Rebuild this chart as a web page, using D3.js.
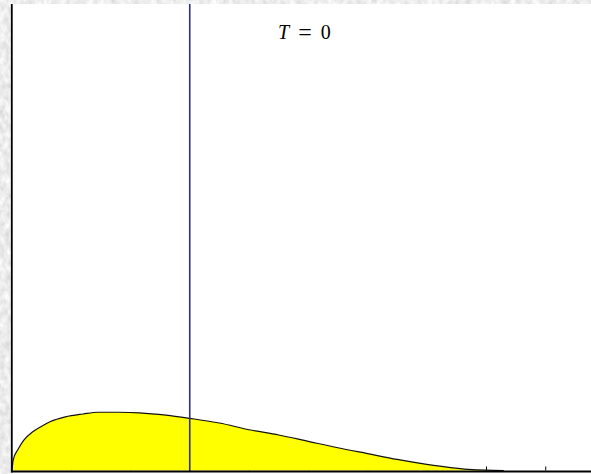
<!DOCTYPE html>
<html>
<head>
<meta charset="utf-8">
<script src="https://cdn.jsdelivr.net/npm/d3@7"></script>
<style>
  html, body { margin: 0; padding: 0; background: #fff; }
  svg { display: block; }
</style>
</head>
<body>
<script>
// Occupation density at T = 0 (energy in arbitrary units)
const energy  = [0, 0.02, 0.1, 0.2, 0.35, 0.5, 0.65, 0.9, 1.2, 1.45, 1.8, 2.15, 2.6, 3.0, 3.5, 4.0, 4.5, 5.0, 5.5, 6.0, 6.5, 7.0, 7.4, 7.7, 8.0, 8.3];
const density = [0, 0.18, 0.36, 0.52, 0.665, 0.76, 0.84, 0.92, 0.97, 1.0, 1.0, 0.99, 0.95, 0.895, 0.815, 0.70, 0.61, 0.50, 0.39, 0.29, 0.19, 0.105, 0.05, 0.02, 0.005, 0];
const xTicks  = [0, 1, 2, 3, 4, 5, 6, 7, 8, 9];
const markerEnergy = 3.0;          // vertical reference line
const titleParts = ["T", "=", "0"];

const W = 591, H = 474;
const x = d3.scaleLinear().domain([0, 10]).range([12, 604.5]);
const y = d3.scaleLinear().domain([0, 8]).range([470.5, 4.5]);

const svg = d3.select("body").append("svg").attr("width", W).attr("height", H);

// textured grey backdrop
const defs = svg.append("defs");
const f = defs.append("filter").attr("id", "marble")
  .attr("x", 0).attr("y", 0).attr("width", "100%").attr("height", "100%");
f.append("feTurbulence").attr("type", "fractalNoise").attr("baseFrequency", "0.18 0.12")
  .attr("numOctaves", 3).attr("seed", 7).attr("result", "n");
f.append("feColorMatrix").attr("in", "n").attr("type", "matrix")
  .attr("values", "0.45 0 0 0 0.62  0.45 0 0 0 0.62  0.45 0 0 0 0.62  0 0 0 0 1");
svg.append("rect").attr("width", W).attr("height", H).attr("fill", "#ddd").attr("filter", "url(#marble)");

// plot area
svg.append("rect").attr("x", 12).attr("y", 4).attr("width", W - 12).attr("height", H - 4).attr("fill", "#fff");

// bottom axis with inward ticks, drawn beneath the filled area
svg.append("g")
  .attr("transform", `translate(0,${y(0)})`)
  .call(d3.axisBottom(x).tickValues(xTicks).tickSizeInner(-4).tickSizeOuter(0).tickFormat(""))
  .call(g => g.select(".domain").remove())
  .call(g => g.selectAll(".tick line").attr("stroke", "#000").attr("stroke-width", 1));

const pts = energy.map((e, i) => [e, density[i]]);

svg.append("path")
  .datum(pts)
  .attr("fill", "#ffff00")
  .attr("d", d3.area().x(d => x(d[0])).y0(y(0)).y1(d => y(d[1])).curve(d3.curveMonotoneX));

svg.append("path")
  .datum(pts)
  .attr("fill", "none")
  .attr("stroke", "#111")
  .attr("stroke-width", 1.2)
  .attr("d", d3.line().x(d => x(d[0])).y(d => y(d[1])).curve(d3.curveMonotoneX));

// vertical reference line
svg.append("line")
  .attr("x1", x(markerEnergy)).attr("x2", x(markerEnergy))
  .attr("y1", 4).attr("y2", y(0) + 1)
  .attr("stroke", "#2e2e88").attr("stroke-width", 1.6);

// axis lines
svg.append("line").attr("x1", 11.5).attr("x2", W).attr("y1", 471.5).attr("y2", 471.5)
  .attr("stroke", "#000").attr("stroke-width", 2);
svg.append("line").attr("x1", 11.8).attr("x2", 11.8).attr("y1", 4).attr("y2", 472.5)
  .attr("stroke", "#000").attr("stroke-width", 1.8);

// title
const t = svg.append("text")
  .attr("x", x(4.49)).attr("y", 39)
  .attr("font-family", "'Liberation Serif', 'Times New Roman', serif")
  .attr("font-size", 20).attr("fill", "#000");
t.append("tspan").attr("font-style", "italic").text(titleParts[0]);
t.append("tspan").attr("dx", 9).attr("font-size", 24).attr("dy", 1).text(titleParts[1]);
t.append("tspan").attr("dx", 9).attr("dy", -1).text(titleParts[2]);
</script>
</body>
</html>
